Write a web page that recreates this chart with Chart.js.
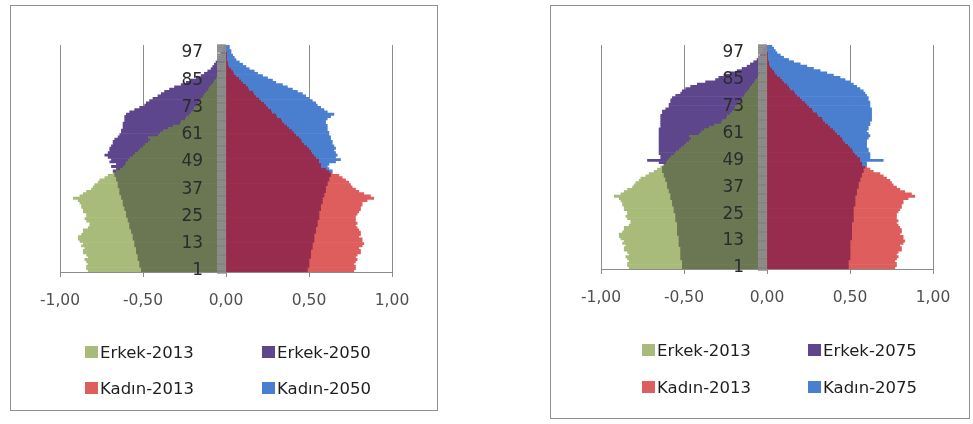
<!DOCTYPE html>
<html>
<head>
<meta charset="utf-8">
<script src="https://cdn.jsdelivr.net/npm/chart.js@4.4.1/dist/chart.umd.min.js"></script>
<style>
  html, body { margin: 0; padding: 0; background: #fff; }
  body { width: 973px; height: 424px; position: relative; overflow: hidden; font-family: 'DejaVu Sans', sans-serif; }
  .panel { position: absolute; border: 1px solid #8f8f8f; background: #fff; }
  .panel .wrap { position: absolute; left: 0; top: 0; right: 0; bottom: 0; }
  .legend { position: absolute; left: 0; top: 0; font-size: 16.5px; color: #1e1e1e; }
  .legend .item { position: absolute; display: flex; align-items: center; white-space: nowrap; height: 20px; }
  .legend .sw { width: 13px; height: 12px; margin-right: 2px; }
</style>
</head>
<body>
<div class="panel" style="left:10px;top:5px;width:426px;height:404px">
  <div class="wrap"><canvas id="chart1"></canvas></div>
  <div class="legend" id="legend1"></div>
</div>
<div class="panel" style="left:550px;top:5px;width:418px;height:412px">
  <div class="wrap"><canvas id="chart2"></canvas></div>
  <div class="legend" id="legend2"></div>
</div>
<script>
// ages (categories), bottom to top
const ages = [1,2,3,4,5,6,7,8,9,10,11,12,13,14,15,16,17,18,19,20,
  21,22,23,24,25,26,27,28,29,30,31,32,33,34,35,36,37,38,39,40,
  41,42,43,44,45,46,47,48,49,50,51,52,53,54,55,56,57,58,59,60,
  61,62,63,64,65,66,67,68,69,70,71,72,73,74,75,76,77,78,79,80,
  81,82,83,84,85,86,87,88,89,90,91,92,93,94,95,96,97,98,99,100];
const ageTicks = [1, 13, 25, 37, 49, 61, 73, 85, 97];
const xTicks = [-1, -0.5, 0, 0.5, 1];

// share of population, % (men negative)
const erkek2013 = [-0.83,-0.84,-0.84,-0.83,-0.84,-0.85,-0.83,-0.84,-0.86,-0.86,
  -0.85,-0.87,-0.86,-0.88,-0.89,-0.89,-0.87,-0.86,-0.86,-0.83,
  -0.82,-0.82,-0.84,-0.85,-0.84,-0.84,-0.86,-0.86,-0.87,-0.87,
  -0.88,-0.89,-0.92,-0.88,-0.86,-0.84,-0.81,-0.80,-0.79,-0.77,
  -0.76,-0.73,-0.71,-0.68,-0.66,-0.64,-0.62,-0.61,-0.60,-0.59,
  -0.58,-0.56,-0.55,-0.53,-0.52,-0.50,-0.49,-0.47,-0.46,-0.47,
  -0.41,-0.40,-0.38,-0.35,-0.32,-0.28,-0.27,-0.25,-0.24,-0.22,
  -0.21,-0.20,-0.19,-0.18,-0.17,-0.16,-0.15,-0.14,-0.13,-0.12,
  -0.11,-0.10,-0.09,-0.08,-0.07,-0.06,-0.05,-0.04,-0.03,-0.025,
  -0.02,-0.02,-0.015,-0.012,-0.01,-0.008,-0.006,-0.005,-0.004,-0.003];
const kadin2013 = [0.77,0.78,0.78,0.77,0.78,0.79,0.78,0.79,0.81,0.81,
  0.80,0.82,0.83,0.82,0.82,0.80,0.81,0.81,0.80,0.79,
  0.78,0.79,0.78,0.78,0.78,0.79,0.80,0.81,0.81,0.82,
  0.82,0.85,0.89,0.87,0.83,0.80,0.78,0.76,0.75,0.74,
  0.72,0.70,0.68,0.64,0.62,0.60,0.57,0.57,0.56,0.56,
  0.54,0.53,0.52,0.51,0.50,0.49,0.47,0.46,0.45,0.44,
  0.42,0.41,0.40,0.38,0.37,0.35,0.34,0.33,0.31,0.30,
  0.28,0.27,0.25,0.24,0.23,0.21,0.20,0.18,0.17,0.16,
  0.14,0.13,0.12,0.10,0.09,0.08,0.06,0.05,0.04,0.03,
  0.02,0.015,0.01,0.008,0.006,0.005,0.004,0.003,0.002,0.001];
const erkek2050 = [-0.51,-0.51,-0.52,-0.52,-0.52,-0.53,-0.53,-0.53,-0.54,-0.54,
  -0.54,-0.55,-0.55,-0.55,-0.56,-0.56,-0.56,-0.57,-0.57,-0.58,
  -0.58,-0.58,-0.59,-0.59,-0.60,-0.60,-0.60,-0.61,-0.61,-0.62,
  -0.62,-0.62,-0.63,-0.63,-0.64,-0.64,-0.64,-0.65,-0.65,-0.65,
  -0.66,-0.66,-0.67,-0.67,-0.68,-0.66,-0.69,-0.66,-0.70,-0.69,
  -0.71,-0.73,-0.71,-0.70,-0.70,-0.69,-0.68,-0.68,-0.67,-0.65,
  -0.64,-0.63,-0.63,-0.62,-0.62,-0.62,-0.61,-0.61,-0.61,-0.60,
  -0.58,-0.55,-0.52,-0.49,-0.48,-0.46,-0.44,-0.41,-0.39,-0.37,
  -0.34,-0.31,-0.27,-0.24,-0.21,-0.18,-0.15,-0.13,-0.11,-0.09,
  -0.08,-0.07,-0.06,-0.05,-0.04,-0.03,-0.03,-0.02,-0.02,-0.01];
const kadin2050 = [0.49,0.49,0.50,0.50,0.50,0.50,0.51,0.51,0.51,0.51,
  0.52,0.52,0.52,0.53,0.53,0.53,0.53,0.54,0.54,0.54,
  0.55,0.55,0.55,0.56,0.56,0.56,0.56,0.57,0.57,0.57,
  0.58,0.58,0.58,0.59,0.59,0.60,0.60,0.60,0.61,0.61,
  0.62,0.62,0.63,0.63,0.64,0.62,0.61,0.62,0.66,0.69,
  0.66,0.67,0.66,0.65,0.66,0.65,0.64,0.64,0.63,0.63,
  0.62,0.62,0.61,0.61,0.61,0.60,0.60,0.61,0.63,0.65,
  0.61,0.59,0.57,0.55,0.54,0.52,0.50,0.48,0.46,0.43,
  0.40,0.37,0.34,0.30,0.28,0.25,0.22,0.19,0.17,0.14,
  0.12,0.10,0.08,0.06,0.05,0.04,0.03,0.03,0.02,0.02];
const erkek2075 = [-0.51,-0.51,-0.51,-0.51,-0.52,-0.52,-0.52,-0.52,-0.52,-0.52,
  -0.53,-0.53,-0.53,-0.53,-0.53,-0.54,-0.54,-0.54,-0.54,-0.54,
  -0.54,-0.55,-0.55,-0.55,-0.55,-0.56,-0.56,-0.56,-0.57,-0.57,
  -0.57,-0.58,-0.58,-0.58,-0.59,-0.59,-0.60,-0.60,-0.60,-0.61,
  -0.61,-0.62,-0.62,-0.63,-0.63,-0.63,-0.62,-0.65,-0.72,-0.64,
  -0.64,-0.65,-0.65,-0.65,-0.65,-0.65,-0.65,-0.65,-0.65,-0.65,
  -0.65,-0.65,-0.65,-0.64,-0.64,-0.64,-0.64,-0.64,-0.64,-0.63,
  -0.63,-0.61,-0.59,-0.59,-0.58,-0.58,-0.57,-0.55,-0.52,-0.51,
  -0.49,-0.46,-0.42,-0.37,-0.31,-0.29,-0.26,-0.22,-0.18,-0.15,
  -0.12,-0.10,-0.08,-0.06,-0.05,-0.04,-0.03,-0.02,-0.02,-0.01];
const kadin2075 = [0.49,0.49,0.49,0.49,0.50,0.50,0.50,0.50,0.50,0.50,
  0.50,0.50,0.50,0.51,0.51,0.51,0.51,0.51,0.51,0.51,
  0.51,0.52,0.52,0.52,0.52,0.52,0.52,0.52,0.53,0.53,
  0.53,0.53,0.53,0.54,0.54,0.54,0.55,0.55,0.55,0.56,
  0.56,0.57,0.57,0.58,0.58,0.59,0.60,0.60,0.70,0.62,
  0.62,0.62,0.61,0.61,0.60,0.60,0.60,0.60,0.61,0.62,
  0.61,0.60,0.61,0.61,0.62,0.62,0.63,0.63,0.63,0.63,
  0.63,0.63,0.62,0.62,0.62,0.61,0.61,0.60,0.59,0.58,
  0.56,0.54,0.52,0.50,0.47,0.44,0.40,0.36,0.32,0.28,
  0.24,0.20,0.16,0.13,0.10,0.08,0.06,0.05,0.04,0.03];

const colors = {
  green: '#a9bb7a', olive: '#6a7752', purple: '#5d468b',
  red: '#de5d5d', crimson: '#982c4e', blue: '#4a7fd0',
  grid: '#8c8c8c', band: '#8d8d8d'
};

Chart.defaults.font.family = "'DejaVu Sans', sans-serif";

// bar of the later year: inner part (shared with 2013) dark, rest in its own colour
function splitFill(base, inner, outer) {
  return function (c) {
    const chart = c.chart, area = chart.chartArea, xs = chart.scales.x;
    if (c.type !== 'data' || !area || !xs) return outer;
    const v = base[c.dataIndex];
    let t = (xs.getPixelForValue(v) - area.left) / (area.right - area.left);
    t = Math.min(1, Math.max(0, t));
    const g = chart.ctx.createLinearGradient(area.left, 0, area.right, 0);
    const a = v < 0 ? outer : inner, b = v < 0 ? inner : outer;
    g.addColorStop(0, a); g.addColorStop(t, a);
    g.addColorStop(t, b); g.addColorStop(1, b);
    return g;
  };
}

function ageLabel(v) {
  const a = this.getLabelForValue(v);
  return ageTicks.includes(a) ? String(a) : '';
}

function pyramid(id, year, m2, f2, pad) {
  return new Chart(document.getElementById(id), {
    type: 'bar',
    data: {
      labels: ages,
      datasets: [
        {label: 'Erkek-' + year, data: m2, order: 1, legendColor: colors.purple,
         backgroundColor: splitFill(erkek2013, colors.olive, colors.purple)},
        {label: 'Kadın-' + year, data: f2, order: 1, legendColor: colors.blue,
         backgroundColor: splitFill(kadin2013, colors.crimson, colors.blue)},
        {label: 'Erkek-2013', data: erkek2013, order: 2, legendColor: colors.green, backgroundColor: colors.green},
        {label: 'Kadın-2013', data: kadin2013, order: 2, legendColor: colors.red, backgroundColor: colors.red}
      ]
    },
    options: {
      indexAxis: 'y',
      responsive: true,
      maintainAspectRatio: false,
      animation: false,
      events: [],
      layout: {padding: pad},
      datasets: {bar: {grouped: false, barPercentage: 1, categoryPercentage: 1, borderWidth: 0}},
      plugins: {legend: {display: false}, tooltip: {enabled: false}},
      scales: {
        x: {
          type: 'linear', min: -1, max: 1,
          afterBuildTicks: s => { s.ticks = xTicks.map(v => ({value: v})); },
          afterFit: s => { s.height = 50; },
          grid: {color: colors.grid, lineWidth: 1, tickLength: 5},
          border: {color: colors.grid, width: 1, z: 1},
          ticks: {
            callback: v => v.toFixed(2).replace('.', ','),
            color: '#505050', font: {size: 15.5}, padding: 15, maxRotation: 0
          }
        },
        // axis at zero: dense category tick marks form the grey band
        y: {
          type: 'category', reverse: true, position: {x: 0},
          afterFit: s => { s.width = 0; },
          grid: {drawOnChartArea: false, tickLength: 9, tickColor: colors.band, tickWidth: 2.4, z: 1},
          border: {display: false},
          ticks: {display: false}
        },
        // age labels, placed a little left of the band
        yLabels: {
          type: 'category', axis: 'y', reverse: true, position: {x: -0.138},
          afterFit: s => { s.width = 0; },
          grid: {display: false},
          border: {display: false},
          ticks: {autoSkip: false, z: 1, color: '#2b2b2b', font: {size: 17}, callback: ageLabel}
        }
      }
    }
  });
}

function legend(id, chart, cols, rows) {
  const el = document.getElementById(id);
  const ds = chart.data.datasets;
  const order = [ds[2], ds[0], ds[3], ds[1]];
  order.forEach((d, i) => {
    const item = document.createElement('div');
    item.className = 'item';
    item.style.left = cols[i % 2] + 'px';
    item.style.top = rows[Math.floor(i / 2)] + 'px';
    const sw = document.createElement('span');
    sw.className = 'sw';
    sw.style.background = d.legendColor;
    const tx = document.createElement('span');
    tx.textContent = d.label;
    item.appendChild(sw);
    item.appendChild(tx);
    el.appendChild(item);
  });
}

const c1 = pyramid('chart1', '2050', erkek2050, kadin2050, {left: 49, right: 45, top: 39, bottom: 88});
const c2 = pyramid('chart2', '2075', erkek2075, kadin2075, {left: 50, right: 36, top: 39, bottom: 99});
legend('legend1', c1, [74, 251], [336, 372]);
legend('legend2', c2, [91, 257], [334, 371]);
</script>
</body>
</html>
